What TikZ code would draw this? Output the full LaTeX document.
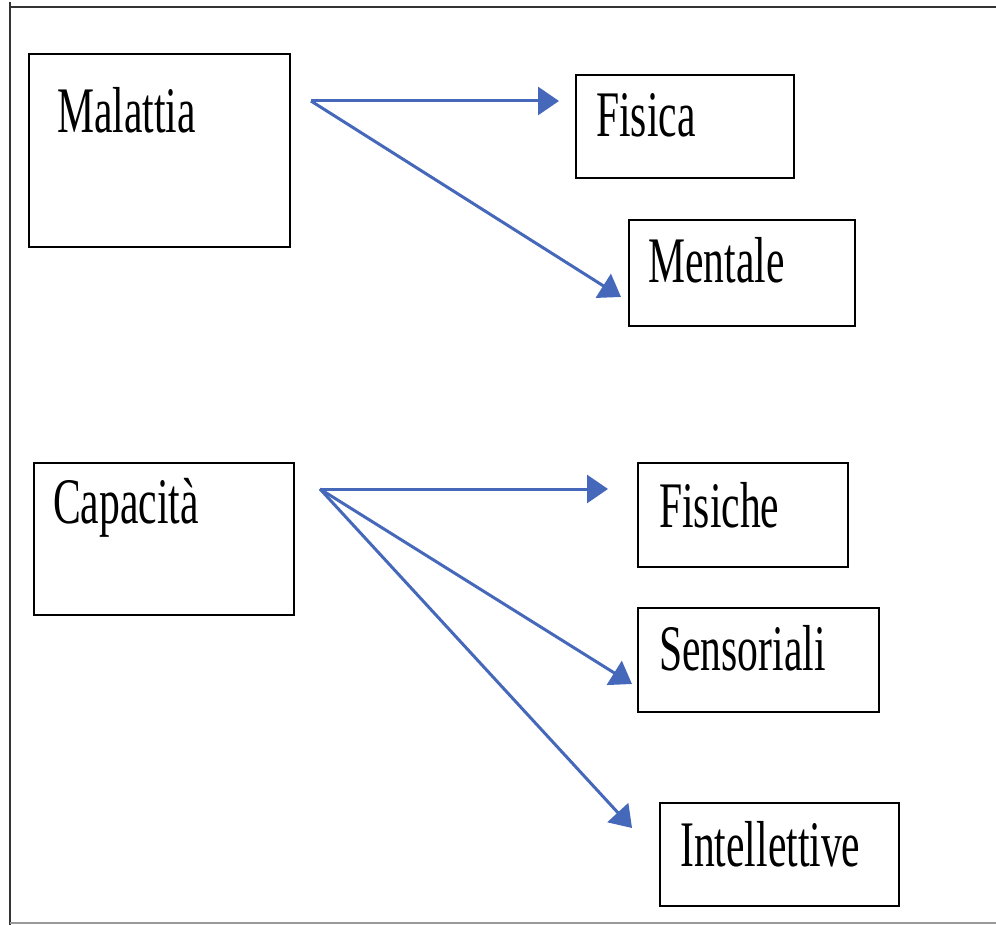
\documentclass[tikz,border=0pt]{standalone}
\usepackage{fontspec}
\setmainfont{Liberation Serif}
\newfontfamily\narrowserif[FakeStretch=0.64]{Liberation Serif}
\usetikzlibrary{arrows.meta}
\definecolor{arrowblue}{HTML}{4568BA}
\tikzset{
  box/.style={draw=black, line width=2pt, anchor=north west, inner sep=0pt},
  lbl/.style={anchor=base west, inner sep=0pt, font=\narrowserif\fontsize{65}{78}\selectfont},
  conn/.style={draw=arrowblue, line width=3pt, -{Triangle[length=21pt,width=28pt]}}
}
\begin{document}
\begin{tikzpicture}[x=1pt,y=-1pt]
\useasboundingbox (0,0) rectangle (996,925);
\fill[white] (0,0) rectangle (996,925);
% frame
\draw[line width=2.5pt,black!80] (10,7) -- (996,7);
\draw[line width=2.5pt,black!80] (10,2) -- (10,925);
\draw[line width=1.5pt,black!40] (10,923) -- (996,923);
% boxes
\node[box, minimum width=261pt, minimum height=193pt] (mal) at (28,53) {};
\node[box, minimum width=218pt, minimum height=103pt] (fis) at (575,74) {};
\node[box, minimum width=226pt, minimum height=106pt] (men) at (628,219) {};
\node[box, minimum width=260pt, minimum height=152pt] (cap) at (33,462) {};
\node[box, minimum width=210pt, minimum height=104pt] (fish) at (637,462) {};
\node[box, minimum width=241pt, minimum height=104pt] (sen) at (637,607) {};
\node[box, minimum width=239pt, minimum height=103pt] (int) at (659,802) {};
% labels
\node[lbl] (tmal) at (57,133) {Malattia};
\node[lbl] (tfis) at (596,137) {Fisica};
\node[lbl] (tmen) at (648,283) {Mentale};
\node[lbl] (tcap) at (53,523) {Capacità};
\node[lbl] (tfish) at (659,527) {Fisiche};
\node[lbl] (tsen) at (659,670) {Sensoriali};
\node[lbl] (tint) at (680,866) {Intellettive};
% connector ends
\coordinate (malout) at (311,101);
\coordinate (fisin) at (559,101);
\coordinate (menin) at (621,297);
\coordinate (capout) at (320,489);
\coordinate (fishin) at (608,489);
\coordinate (senin) at (632,684);
\coordinate (intin) at (632,828);
% connectors
\draw[conn] (malout) -- (fisin);
\draw[conn] (malout) -- (menin);
\draw[conn] (capout) -- (fishin);
\draw[conn] (capout) -- (senin);
\draw[conn] (capout) -- (intin);
\end{tikzpicture}
\end{document}
